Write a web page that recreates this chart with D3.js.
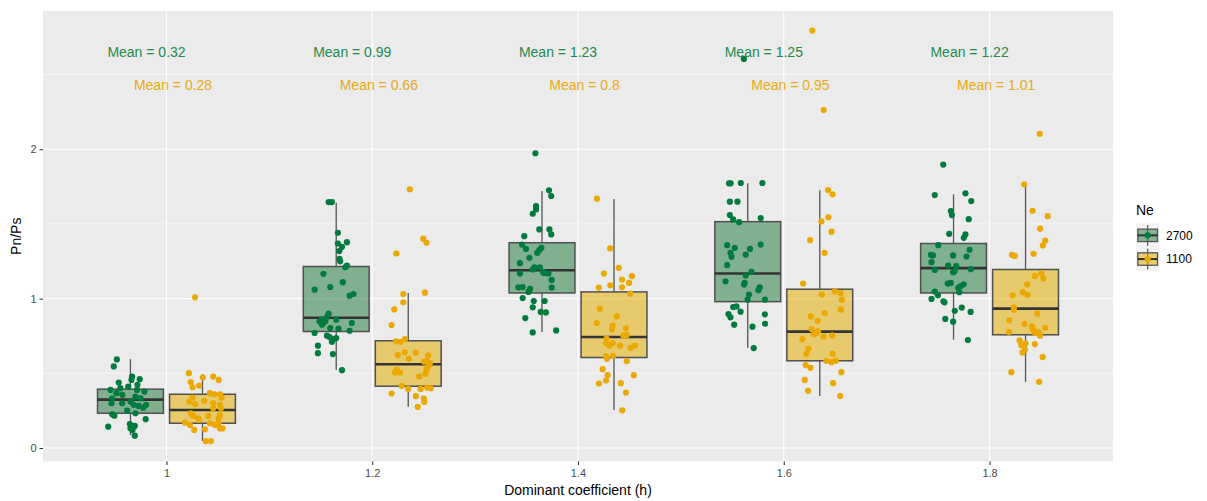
<!DOCTYPE html>
<html><head><meta charset="utf-8">
<script src="https://cdn.jsdelivr.net/npm/d3@7"></script>
<style>body{margin:0;background:#fff}svg{display:block;font-family:"Liberation Sans",Arial,sans-serif}</style>
</head><body><svg id="c" width="1207" height="501"></svg>
<script>
const categories = ["1","1.2","1.4","1.6","1.8"];
const groups = ["2700","1100"];
const colors = {"2700":"#007A3D","1100":"#EBA800"};
const fillColors = {"2700":"#257E3F","1100":"#E4AE00"};
const textColors = {"2700":"#1F8A4C","1100":"#E9AA12"};
const yTicks = [0,1,2];
const meanLabels2700 = [0.32,0.99,1.23,1.25,1.22];
const meanLabels1100 = [0.28,0.66,0.8,0.95,1.01];
// box stats: lower whisker, q1, median, q3, upper whisker
const whiskLo2700 = [0.087,0.523,0.776,0.669,0.725];
const q1_2700     = [0.233,0.780,1.038,0.980,1.038];
const med2700     = [0.324,0.872,1.190,1.168,1.204];
const q3_2700     = [0.394,1.215,1.374,1.515,1.369];
const whiskHi2700 = [0.595,1.642,1.720,1.772,1.698];
const whiskLo1100 = [0.047,0.277,0.255,0.349,0.443];
const q1_1100     = [0.166,0.414,0.606,0.584,0.758];
const med1100     = [0.255,0.561,0.743,0.779,0.933];
const q3_1100     = [0.360,0.718,1.045,1.063,1.195];
const whiskHi1100 = [0.495,1.038,1.667,1.725,1.765];
// observations: [jitter offset (category units), Pn/Ps]
const obs2700_h10 = [[-0.066,0.593],[-0.081,0.546],[-0.057,0.438],[0.005,0.456],[0.045,0.461],[0.008,0.479],[0.034,0.423],[-0.049,0.401],[-0.011,0.411],[0.032,0.389],[0.068,0.378],[-0.097,0.389],[-0.068,0.367],[-0.040,0.356],[0.024,0.344],[-0.089,0.333],[0.049,0.333],[-0.092,0.300],[-0.040,0.300],[0,0.311],[0.016,0.289],[0.040,0.282],[0.076,0.289],[0.062,0.270],[-0.016,0.250],[-0.089,0.226],[-0.078,0.217],[0.024,0.233],[0.074,0.193],[-0.108,0.143],[-0.003,0.161],[0.008,0.148],[0.021,0.148],[0.010,0.121],[0.021,0.083],[0,0.132]];
const obs1100_h10 = [[-0.036,1.009],[-0.066,0.501],[-0.057,0.441],[-0.048,0.407],[-0.016,0.418],[0.002,0.472],[0.052,0.479],[0.079,0.456],[0.036,0.367],[0.057,0.360],[0.085,0.360],[0.093,0.338],[-0.048,0.338],[-0.064,0.311],[0.009,0.315],[-0.036,0.293],[0.052,0.300],[0.085,0.289],[0.090,0.266],[0.052,0.266],[-0.057,0.233],[-0.045,0.215],[-0.020,0.199],[0.028,0.215],[0.085,0.221],[0.079,0.199],[-0.085,0.170],[-0.061,0.154],[-0.016,0.188],[0.036,0.166],[0.061,0.154],[0.077,0.166],[0.098,0.132],[0.085,0.132],[-0.040,0.121],[0.012,0.125],[0.016,0.047],[0.041,0.047]];
const obs2700_h12 = [[-0.037,1.646],[-0.021,1.646],[0.008,1.441],[0.008,1.369],[0.028,1.347],[0.052,1.378],[0.015,1.318],[0.016,1.266],[0.019,1.250],[0.044,1.210],[0.052,1.221],[-0.062,1.166],[0.032,1.110],[-0.029,1.078],[-0.105,1.060],[0.065,1.020],[0.084,1.031],[-0.037,0.899],[-0.045,0.877],[-0.069,0.859],[-0.081,0.848],[-0.062,0.841],[-0.069,0.826],[0,0.859],[0.076,0.837],[-0.029,0.803],[0.011,0.799],[-0.105,0.770],[0.065,0.785],[-0.045,0.752],[-0.032,0.743],[-0.013,0.730],[0,0.736],[-0.021,0.711],[-0.089,0.685],[-0.089,0.635],[-0.016,0.629],[0.028,0.521],[-0.053,0.848]];
const obs1100_h12 = [[0.008,1.732],[0.073,1.401],[0.089,1.374],[-0.058,1.302],[0.081,1.040],[-0.024,1.031],[-0.024,0.975],[-0.068,0.928],[-0.081,0.823],[-0.060,0.714],[-0.037,0.711],[-0.016,0.730],[-0.051,0.622],[-0.017,0.640],[0.037,0.638],[0.003,0.597],[0.097,0.620],[0.089,0.584],[0.076,0.579],[0.105,0.568],[0.097,0.546],[0.089,0.523],[0.084,0.497],[0.053,0.479],[-0.056,0.523],[-0.065,0.505],[-0.040,0.505],[-0.032,0.416],[0,0.396],[0.060,0.396],[0.092,0.405],[0.110,0.400],[-0.081,0.365],[0.037,0.347],[0.076,0.331],[0.078,0.309],[0.046,0.275]];
const obs2700_h14 = [[-0.032,1.973],[0.034,1.725],[0.045,1.687],[-0.029,1.620],[-0.029,1.597],[-0.045,1.568],[-0.013,1.463],[0.036,1.463],[0.045,1.430],[-0.086,1.418],[-0.097,1.362],[-0.078,1.333],[-0.003,1.340],[-0.013,1.324],[-0.023,1.306],[-0.061,1.273],[-0.107,1.237],[-0.037,1.210],[-0.045,1.195],[-0.010,1.210],[0.011,1.172],[0.031,1.168],[-0.107,1.168],[0.047,1.125],[0.047,1.074],[-0.115,1.076],[-0.094,1.078],[-0.058,1.065],[-0.066,1.045],[-0.094,1.004],[-0.040,0.984],[0.013,0.984],[-0.045,0.942],[-0.006,0.911],[0.019,0.908],[-0.081,0.870],[-0.045,0.774],[0.069,0.787],[0.006,1.177]];
const obs1100_h14 = [[-0.083,1.669],[-0.019,1.336],[0.023,1.206],[-0.049,1.168],[0.087,1.150],[0.039,1.128],[0.073,1.105],[-0.074,1.074],[-0.018,1.089],[0.039,1.076],[0.079,1.034],[-0.069,0.931],[0.013,0.881],[-0.084,0.837],[-0.006,0.819],[-0.010,0.796],[0.058,0.801],[0.062,0.756],[0.045,0.754],[-0.036,0.732],[-0.039,0.703],[-0.006,0.703],[-0.023,0.685],[0.029,0.685],[0.081,0.671],[0.102,0.685],[-0.039,0.613],[-0.034,0.597],[-0.005,0.617],[0.062,0.582],[-0.055,0.528],[-0.031,0.488],[0.096,0.488],[-0.073,0.432],[-0.039,0.452],[0.033,0.434],[0.058,0.371],[0.040,0.253]];
const obs2700_h16 = [[-0.019,2.604],[-0.091,1.772],[-0.083,1.772],[-0.034,1.774],[0.071,1.774],[-0.087,1.649],[-0.050,1.649],[-0.087,1.559],[-0.071,1.530],[-0.042,1.512],[0.063,1.539],[-0.100,1.358],[-0.063,1.340],[-0.084,1.306],[-0.079,1.280],[0.011,1.333],[-0.010,1.295],[0.063,1.362],[-0.100,1.224],[0.018,1.179],[-0.010,1.154],[-0.015,1.105],[-0.018,1.094],[-0.108,1.116],[0.058,1.076],[0.052,1.056],[0.006,1.027],[-0.001,0.993],[0.083,0.993],[-0.071,0.944],[-0.055,0.948],[-0.035,0.913],[-0.094,0.897],[-0.084,0.875],[0.083,0.895],[-0.066,0.826],[0.023,0.812],[0.084,0.832],[0.029,0.669]];
const obs1100_h16 = [[-0.036,2.794],[0.019,2.262],[0.040,1.727],[0.062,1.698],[0.008,1.517],[0.042,1.544],[0.057,1.448],[-0.047,1.391],[0.023,1.306],[-0.081,1.101],[0.010,1.027],[0.073,1.049],[0.100,1.038],[0.107,0.993],[0.102,0.926],[-0.044,0.881],[-0.010,0.852],[0.024,0.904],[-0.040,0.796],[-0.016,0.770],[-0.029,0.761],[-0.008,0.781],[0.018,0.747],[0.060,0.754],[-0.084,0.729],[-0.055,0.664],[-0.065,0.631],[0.062,0.631],[0.032,0.584],[0.057,0.575],[0.078,0.584],[-0.068,0.555],[-0.045,0.537],[0.105,0.508],[-0.073,0.456],[0.065,0.434],[-0.057,0.383],[0.099,0.349]];
const obs2700_h18 = [[-0.050,1.897],[-0.091,1.693],[0.058,1.705],[0.086,1.653],[-0.013,1.586],[-0.008,1.559],[0.074,1.532],[-0.021,1.434],[0.058,1.430],[0.050,1.407],[-0.074,1.358],[0.078,1.327],[-0.110,1.293],[-0.100,1.289],[-0.002,1.289],[0.063,1.282],[-0.107,1.244],[-0.026,1.221],[0.013,1.217],[0.005,1.183],[-0.091,1.192],[-0.002,1.177],[0.084,1.197],[-0.028,1.101],[-0.013,1.105],[0.049,1.096],[0.033,1.083],[0.023,1.072],[0.028,1.043],[-0.091,1.047],[-0.076,1.022],[-0.107,0.998],[-0.049,0.982],[-0.044,0.975],[0.040,0.940],[0.083,0.911],[0.006,0.919],[-0.040,0.864],[-0.002,0.846],[0.070,0.723]];
const obs1100_h18 = [[0.069,2.103],[-0.006,1.765],[0.034,1.588],[0.108,1.552],[0.071,1.468],[0.096,1.389],[0.084,1.356],[-0.066,1.293],[-0.052,1.286],[0.039,1.300],[0.045,1.152],[0.076,1.168],[0.087,1.134],[0.008,1.096],[-0.063,1.022],[-0.013,1.043],[0.010,1.025],[-0.057,0.942],[-0.057,0.926],[0.057,0.899],[-0.079,0.855],[-0.005,0.832],[0.031,0.814],[0.036,0.792],[0.096,0.805],[0.047,0.770],[0.063,0.774],[0.071,0.752],[-0.081,0.776],[-0.029,0.720],[0,0.700],[-0.021,0.689],[0.045,0.696],[-0.003,0.658],[-0.015,0.640],[0.083,0.609],[-0.069,0.508],[0.066,0.443]];

const obs2700 = [obs2700_h10,obs2700_h12,obs2700_h14,obs2700_h16,obs2700_h18];
const obs1100 = [obs1100_h10,obs1100_h12,obs1100_h14,obs1100_h16,obs1100_h18];
const stats = {
  "2700": categories.map((c,i)=>({lo:whiskLo2700[i],q1:q1_2700[i],med:med2700[i],q3:q3_2700[i],hi:whiskHi2700[i],obs:obs2700[i],mean:meanLabels2700[i]})),
  "1100": categories.map((c,i)=>({lo:whiskLo1100[i],q1:q1_1100[i],med:med1100[i],q3:q3_1100[i],hi:whiskHi1100[i],obs:obs1100[i],mean:meanLabels1100[i]}))
};

const P = {l:43, r:1113, t:11, b:461.5};
const svg = d3.select("#c");
const x = d3.scalePoint().domain(categories).range([P.l,P.r]).padding(0.6);
const step = x.step();
const dodge = d3.scaleBand().domain(groups).range([-0.35*step,0.35*step]);
const dodgeC = g => dodge(g)+dodge.bandwidth()/2;
const boxW = 0.32*step;
const y = d3.scaleLinear().domain([-0.09,2.925]).range([P.b,P.t]);

svg.append("rect").attr("x",P.l).attr("y",P.t).attr("width",P.r-P.l).attr("height",P.b-P.t).attr("fill","#EBEBEB");
const grid = svg.append("g");
[0.5,1.5,2.5].forEach(v=>grid.append("line").attr("x1",P.l).attr("x2",P.r).attr("y1",y(v)).attr("y2",y(v)).attr("stroke","#fff").attr("stroke-width",0.55));
yTicks.forEach(v=>grid.append("line").attr("x1",P.l).attr("x2",P.r).attr("y1",y(v)).attr("y2",y(v)).attr("stroke","#fff").attr("stroke-width",1.1));
categories.forEach(c=>grid.append("line").attr("x1",x(c)).attr("x2",x(c)).attr("y1",P.t).attr("y2",P.b).attr("stroke","#fff").attr("stroke-width",1.1));

// boxes
groups.forEach(g=>{
  const gg = svg.append("g");
  stats[g].forEach((s,i)=>{
    const cx = x(categories[i]) + dodgeC(g);
    gg.append("line").attr("x1",cx).attr("x2",cx).attr("y1",y(s.hi)).attr("y2",y(s.q3)).attr("stroke","#555").attr("stroke-width",1.3);
    gg.append("line").attr("x1",cx).attr("x2",cx).attr("y1",y(s.q1)).attr("y2",y(s.lo)).attr("stroke","#555").attr("stroke-width",1.3);
    gg.append("rect").attr("x",cx-boxW/2).attr("y",y(s.q3)).attr("width",boxW).attr("height",y(s.q1)-y(s.q3))
      .attr("fill",fillColors[g]).attr("fill-opacity",0.54).attr("stroke","#505050").attr("stroke-width",1.5);
    gg.append("line").attr("x1",cx-boxW/2).attr("x2",cx+boxW/2).attr("y1",y(s.med)).attr("y2",y(s.med)).attr("stroke","#333").attr("stroke-width",2.6);
  });
});
// points
groups.forEach(g=>{
  stats[g].forEach((s,i)=>{
    const cx = x(categories[i]) + dodgeC(g);
    svg.append("g").selectAll("circle").data(s.obs).join("circle")
      .attr("cx",d=>cx+d[0]*step).attr("cy",d=>y(d[1])).attr("r",3.1).attr("fill",colors[g]);
  });
});
// mean labels
const labelY = {"2700":2.65,"1100":2.43};
const labelDx = {"2700":-0.097,"1100":0.032};
groups.forEach(g=>{
  stats[g].forEach((s,i)=>{
    svg.append("text").attr("x",x(categories[i])+labelDx[g]*step).attr("y",y(labelY[g]))
      .attr("text-anchor","middle").attr("dominant-baseline","central").attr("font-size",14).attr("fill",textColors[g])
      .text("Mean = "+s.mean);
  });
});

// axes
const yAxis = svg.append("g").attr("transform",`translate(${P.l},0)`).call(d3.axisLeft(y).tickValues(yTicks).tickSize(3.5).tickPadding(3).tickFormat(d3.format("d")));
const xAxis = svg.append("g").attr("transform",`translate(0,${P.b})`).call(d3.axisBottom(x).tickSize(3.5).tickPadding(4));
[yAxis,xAxis].forEach(a=>{
  a.select(".domain").remove();
  a.selectAll(".tick line").attr("stroke","#333").attr("stroke-width",1.1);
  a.selectAll(".tick text").attr("fill","#4D4D4D").attr("font-size",11).attr("font-family","Liberation Sans, Arial, sans-serif");
});
svg.append("text").attr("x",(P.l+P.r)/2).attr("y",495).attr("text-anchor","middle").attr("font-size",14).attr("fill","#000").text("Dominant coefficient (h)");
svg.append("text").attr("transform",`translate(21,${(P.t+P.b)/2}) rotate(-90)`).attr("text-anchor","middle").attr("font-size",14).attr("fill","#000").text("Pn/Ps");

// legend
const L = svg.append("g").attr("transform","translate(1136,0)");
L.append("text").attr("x",0).attr("y",215).attr("font-size",14).attr("fill","#000").text("Ne");
groups.forEach((g,i)=>{
  const ky = 223.5 + i*23.7, kh = 23.7, kw = 23.3;
  L.append("rect").attr("x",0).attr("y",ky).attr("width",kw).attr("height",kh).attr("fill","#F2F2F2");
  const cxk = kw/2, cyk = ky+kh/2;
  L.append("line").attr("x1",cxk).attr("x2",cxk).attr("y1",ky+1.5).attr("y2",ky+kh-1.5).attr("stroke","#555").attr("stroke-width",1.2);
  L.append("rect").attr("x",1.8).attr("y",cyk-6.2).attr("width",kw-3.6).attr("height",12.4).attr("fill",fillColors[g]).attr("fill-opacity",0.54).attr("stroke","#555").attr("stroke-width",1.3);
  L.append("line").attr("x1",1.8).attr("x2",kw-1.8).attr("y1",cyk).attr("y2",cyk).attr("stroke","#333").attr("stroke-width",2);
  L.append("circle").attr("cx",cxk).attr("cy",cyk).attr("r",3.1).attr("fill",colors[g]);
  L.append("text").attr("x",30).attr("y",cyk+4.3).attr("font-size",12).attr("fill","#000").text(g);
});
</script></body></html>
